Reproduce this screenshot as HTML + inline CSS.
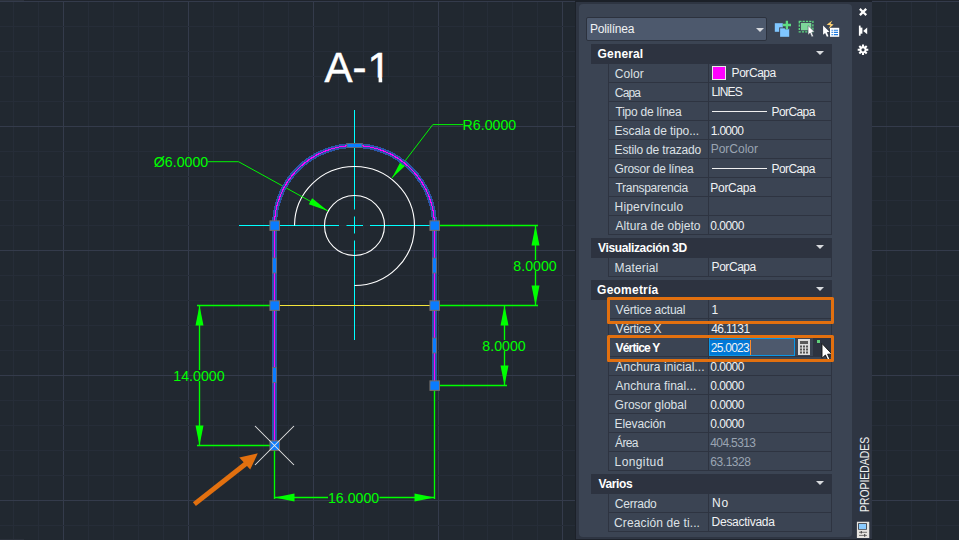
<!DOCTYPE html>
<html lang="es"><head><meta charset="utf-8"><title>AutoCAD - Propiedades</title>
<style>
*{box-sizing:border-box;margin:0;padding:0}
html,body{width:959px;height:540px;overflow:hidden;background:#212830}
body{position:relative;font-family:"Liberation Sans",Arial,sans-serif;font-size:12px;color:#e9ecef}
.cad{position:absolute;left:0;top:0}
.topbar{position:absolute;left:576px;top:0;width:296px;height:2px;background:#1b2028}
.frame{position:absolute;left:576px;top:2px;width:296px;height:536.5px;background:#2e3542}
.botbar{position:absolute;left:575px;top:538.5px;width:298px;height:1.5px;background:#1e232c}
.lshadow{position:absolute;left:574.5px;top:0;width:1.5px;height:540px;background:#1c2129}
.panel{position:absolute;left:579px;top:4px;width:273px;height:533px;background:#3b4453;border-radius:4px}
.combo{position:absolute;left:586px;top:17px;width:181px;height:24px;background:#4d596d;border:1px solid #2c323e;border-radius:2px;line-height:21px;padding-left:4px;font-size:12.4px;color:#f0f2f4}
.combo i{position:absolute;left:169px;top:10px;border-left:4px solid transparent;border-right:4px solid transparent;border-top:4px solid #d8dade}
.hd{position:absolute;left:591px;width:241px;height:20px;background:#2d3340;font-weight:bold;color:#fff;line-height:19px;padding-left:7px;font-size:12.2px}
.hd .tri{position:absolute;left:225px;top:7px;border-left:4px solid transparent;border-right:4px solid transparent;border-top:4px solid #d8dade}
.row{position:absolute;left:608px;width:224px;height:19px;border-left:1px solid #2e3441;border-right:1px solid #2e3441;border-bottom:1px solid #2e3441;line-height:18px;white-space:nowrap}
.row .lb{position:absolute;left:0;top:0;width:100px;height:18px;border-right:1px solid #2e3441}
.t{position:absolute;white-space:nowrap;line-height:19px;height:19px;font-size:12px;margin-top:1px}
.tl{color:#dde1e6}
.tv{color:#f0f2f4}
.tv.g{color:#9aa4b2}
.tv.up{margin-top:0}
.th{font-weight:bold;color:#fff;line-height:20px;height:20px;margin-top:0}
.tl.bold{font-weight:bold;color:#fff}
.tc{color:#f0f2f4;line-height:20px}
.row .vl{position:absolute;left:100px;top:0;width:122px;height:18px;padding-left:4px;color:#f4f5f6}
.row .vl.v2{padding-left:3px}
.row .vl.g{color:#9aa4b2}
.sw{position:absolute;left:712px;width:14px;height:14px;background:#ff00ff;border:1px solid #e8e8e8}
.ln{position:absolute;left:712px;width:55px;height:1px;background:#f0f0f0}
.row.sel .lb{}
.row.sel .vl{padding:0}
.edit{position:absolute;left:0;top:0;width:86px;height:18px;background:#4d596d;border:1px solid #0a96e6;line-height:15px}
.hl{display:inline-block;background:#0078d7;height:15px;width:40px;margin-top:1px;margin-left:0}
.caret{display:inline-block;width:1px;height:15px;background:#ff8a28;vertical-align:top;margin-top:1px}
.calc{position:absolute;left:89px;top:1px}
.dd{position:absolute;left:104px;top:0;width:18px;height:18px;background:#2d3340}
.dd i{position:absolute;left:4px;top:2px;width:3px;height:3px;background:#5fd07a}
.obox{position:absolute;left:607px;width:227px;border:3px solid #e2700f;border-radius:1.5px}
.vt{position:absolute;left:858px;top:512px;width:80px;height:14px;transform-origin:0 0;transform:rotate(-90deg) scaleX(0.845);font-size:12.3px;color:#f0f0f0;line-height:14px;white-space:nowrap}
</style></head><body>
<svg class="cad" width="959" height="540" viewBox="0 0 959 540">
<g shape-rendering="crispEdges">
<rect x="13" y="0" width="1" height="540" fill="#262d38"/>
<rect x="38" y="0" width="1" height="540" fill="#262d38"/>
<rect x="63" y="0" width="1" height="540" fill="#343b4b"/>
<rect x="88" y="0" width="1" height="540" fill="#262d38"/>
<rect x="113" y="0" width="1" height="540" fill="#262d38"/>
<rect x="138" y="0" width="1" height="540" fill="#262d38"/>
<rect x="163" y="0" width="1" height="540" fill="#262d38"/>
<rect x="188" y="0" width="1" height="540" fill="#343b4b"/>
<rect x="213" y="0" width="1" height="540" fill="#262d38"/>
<rect x="238" y="0" width="1" height="540" fill="#262d38"/>
<rect x="263" y="0" width="1" height="540" fill="#262d38"/>
<rect x="288" y="0" width="1" height="540" fill="#262d38"/>
<rect x="313" y="0" width="1" height="540" fill="#343b4b"/>
<rect x="338" y="0" width="1" height="540" fill="#262d38"/>
<rect x="363" y="0" width="1" height="540" fill="#262d38"/>
<rect x="388" y="0" width="1" height="540" fill="#262d38"/>
<rect x="413" y="0" width="1" height="540" fill="#262d38"/>
<rect x="438" y="0" width="1" height="540" fill="#343b4b"/>
<rect x="463" y="0" width="1" height="540" fill="#262d38"/>
<rect x="487" y="0" width="1" height="540" fill="#262d38"/>
<rect x="512" y="0" width="1" height="540" fill="#262d38"/>
<rect x="537" y="0" width="1" height="540" fill="#262d38"/>
<rect x="562" y="0" width="1" height="540" fill="#343b4b"/>
<rect x="587" y="0" width="1" height="540" fill="#262d38"/>
<rect x="612" y="0" width="1" height="540" fill="#262d38"/>
<rect x="637" y="0" width="1" height="540" fill="#262d38"/>
<rect x="662" y="0" width="1" height="540" fill="#262d38"/>
<rect x="687" y="0" width="1" height="540" fill="#343b4b"/>
<rect x="712" y="0" width="1" height="540" fill="#262d38"/>
<rect x="737" y="0" width="1" height="540" fill="#262d38"/>
<rect x="762" y="0" width="1" height="540" fill="#262d38"/>
<rect x="787" y="0" width="1" height="540" fill="#262d38"/>
<rect x="811" y="0" width="1" height="540" fill="#343b4b"/>
<rect x="836" y="0" width="1" height="540" fill="#262d38"/>
<rect x="861" y="0" width="1" height="540" fill="#262d38"/>
<rect x="886" y="0" width="1" height="540" fill="#262d38"/>
<rect x="911" y="0" width="1" height="540" fill="#262d38"/>
<rect x="936" y="0" width="1" height="540" fill="#262d38"/>
<rect x="0" y="1" width="959" height="1" fill="#343b4b"/>
<rect x="0" y="26" width="959" height="1" fill="#262d38"/>
<rect x="0" y="51" width="959" height="1" fill="#262d38"/>
<rect x="0" y="76" width="959" height="1" fill="#262d38"/>
<rect x="0" y="101" width="959" height="1" fill="#262d38"/>
<rect x="0" y="126" width="959" height="1" fill="#343b4b"/>
<rect x="0" y="151" width="959" height="1" fill="#262d38"/>
<rect x="0" y="176" width="959" height="1" fill="#262d38"/>
<rect x="0" y="200" width="959" height="1" fill="#262d38"/>
<rect x="0" y="225" width="959" height="1" fill="#262d38"/>
<rect x="0" y="250" width="959" height="1" fill="#343b4b"/>
<rect x="0" y="275" width="959" height="1" fill="#262d38"/>
<rect x="0" y="300" width="959" height="1" fill="#262d38"/>
<rect x="0" y="325" width="959" height="1" fill="#262d38"/>
<rect x="0" y="350" width="959" height="1" fill="#262d38"/>
<rect x="0" y="375" width="959" height="1" fill="#343b4b"/>
<rect x="0" y="400" width="959" height="1" fill="#262d38"/>
<rect x="0" y="425" width="959" height="1" fill="#262d38"/>
<rect x="0" y="450" width="959" height="1" fill="#262d38"/>
<rect x="0" y="475" width="959" height="1" fill="#262d38"/>
<rect x="0" y="500" width="959" height="1" fill="#343b4b"/>
<rect x="0" y="525" width="959" height="1" fill="#262d38"/>
<rect x="0" y="0" width="959" height="1" fill="#1f242c"/><rect x="0" y="0" width="24" height="1" fill="#2b313b"/>
</g>
<g stroke="#00ffff" stroke-width="1" fill="none">
<path d="M239 225.5H339M346.5 225.5H363M370 225.5H434.5"/>
<path d="M354.5 110V209.5M354.5 216.5V233.5M354.5 240.5V340"/>
</g>
<g stroke="#ffffff" stroke-width="1.12" fill="none">
<circle cx="354.5" cy="225.5" r="30"/>
<path d="M294.5 225.5A60 59.5 0 1 1 354.5 285.5"/>
</g>
<path d="M274.5 305.5H434.5" stroke="#f5e63c" stroke-width="1.2" fill="none"/>
<g stroke="#00ff00" stroke-width="1.35" fill="none">
<path d="M434.5 225.5H538M434.5 305.5H538M535.5 225.5V260M535.5 271V305.5"/>
<path d="M434.5 385.5H507M504.5 305.5V340M504.5 351V385.5"/>
<path d="M274.5 305.5H197M274.5 445.5H197M199.5 305.5V370M199.5 381V445.5"/>
<path d="M274.5 445.5V499M434.5 385.5V499M274.5 497.5H328M379.5 497.5H434.5"/>
<path d="M208 161.7H238.5L328 211" stroke-width="0.95"/>
<path d="M463 124.6H432.8L392 178" stroke-width="0.95"/>
</g>
<g fill="#00ff00" stroke="none">
<polygon points="535.50,225.50 531.50,245.50 539.50,245.50"/>
<polygon points="535.50,305.50 539.50,285.50 531.50,285.50"/>
<polygon points="504.50,305.50 500.50,325.50 508.50,325.50"/>
<polygon points="504.50,385.50 508.50,365.50 500.50,365.50"/>
<polygon points="199.50,305.50 195.50,325.50 203.50,325.50"/>
<polygon points="199.50,445.50 203.50,425.50 195.50,425.50"/>
<polygon points="274.50,497.50 294.50,501.50 294.50,493.50"/>
<polygon points="434.50,497.50 414.50,493.50 414.50,501.50"/>
<polygon points="328.00,211.00 312.12,198.37 308.84,204.33"/>
<polygon points="392.00,178.00 406.84,164.17 401.44,160.04"/>
</g>
<g fill="#00ff00" font-family="Liberation Sans, Arial, sans-serif" font-size="14.2" text-anchor="middle">
<text x="535" y="271.2">8.0000</text>
<text x="504" y="351.2">8.0000</text>
<text x="199" y="381.2">14.0000</text>
<text x="353.6" y="502.6">16.0000</text>
<text x="181" y="167.1">Ø6.0000</text>
<text x="489.4" y="130.1">R6.0000</text>
</g>
<text y="82.1" fill="#ffffff" stroke="#ffffff" stroke-width="0.5" font-family="Liberation Sans, Arial, sans-serif" font-size="42"><tspan x="324.4">A</tspan><tspan x="352.6">-</tspan><tspan x="367.5">1</tspan></text>
<rect x="367" y="77.6" width="11.6" height="6" fill="#212830"/><rect x="382.2" y="77.6" width="8" height="6" fill="#212830"/>
<path d="M274.5 445.5V225.5A80 80 0 0 1 434.5 225.5V385.5" stroke="#2b55a6" stroke-width="5" fill="none" shape-rendering="crispEdges"/>
<path d="M274.5 445.5V225.5A80 80 0 0 1 434.5 225.5V385.5" stroke="#ff00ff" stroke-width="1.15" fill="none" shape-rendering="crispEdges"/>
<rect x="269.95" y="220.85" width="9.5" height="9.5" fill="#0a7cff" stroke="#786e66" stroke-width="1"/>
<rect x="429.95" y="220.85" width="9.5" height="9.5" fill="#0a7cff" stroke="#786e66" stroke-width="1"/>
<rect x="269.95" y="300.85" width="9.5" height="9.5" fill="#0a7cff" stroke="#786e66" stroke-width="1"/>
<rect x="429.95" y="300.85" width="9.5" height="9.5" fill="#0a7cff" stroke="#786e66" stroke-width="1"/>
<rect x="429.95" y="380.85" width="9.5" height="9.5" fill="#0a7cff" stroke="#786e66" stroke-width="1"/>
<rect x="272.5" y="258.0" width="4" height="15" fill="#0a7cff" stroke="#6b6a68" stroke-width="0.8"/>
<rect x="432.5" y="258.0" width="4" height="15" fill="#0a7cff" stroke="#6b6a68" stroke-width="0.8"/>
<rect x="432.5" y="338.0" width="4" height="15" fill="#0a7cff" stroke="#6b6a68" stroke-width="0.8"/>
<rect x="272.5" y="367.5" width="4" height="15" fill="#0a7cff" stroke="#6b6a68" stroke-width="0.8"/>
<rect x="347.0" y="143.5" width="15" height="4" fill="#0a7cff" stroke="#6b6a68" stroke-width="0.8"/>
<rect x="269.95" y="440.85" width="9.5" height="9.5" fill="#0a7cff" stroke="#786e66" stroke-width="1"/>
<path d="M255 426L294 465M294 426L255 465" stroke="#e6e6e6" stroke-width="1.05" fill="none"/>
<g fill="#e2700f" stroke="none">
<path d="M192.9 502.2L244.6 461.6L247.6 465.4L195.9 506Z"/>
<polygon points="257.8,453.3 239.3,457.5 250.2,469.6"/>
</g>
<rect x="0" y="539" width="24" height="1" fill="#2b313b"/>
</svg>
<div class="topbar"></div>
<div class="frame"></div><div class="botbar"></div><div class="lshadow"></div>
<div class="panel"></div>
<div class="combo"><i></i></div>
<span class="t tc" style="left:590.10px;top:18px;letter-spacing:-0.226px">Polilínea</span>
<div class="hd" style="top:44px"><i class="tri"></i></div>
<span class="t th" style="left:597.60px;top:44px;letter-spacing:0.150px">General</span>
<div class="row" style="top:64px"><div class="lb"></div></div>
<span class="t tl" style="left:614.84px;top:64px;letter-spacing:0.041px">Color</span>
<div class="sw" style="top:66px"></div>
<span class="t tv up" style="left:731.60px;top:64px;letter-spacing:-0.450px">PorCapa</span>
<div class="row" style="top:83px"><div class="lb"></div></div>
<span class="t tl" style="left:614.84px;top:83px;letter-spacing:-0.840px">Capa</span>
<span class="t tv up" style="left:711.60px;top:83px;letter-spacing:-0.900px">LINES</span>
<div class="row" style="top:102px"><div class="lb"></div></div>
<span class="t tl" style="left:615.50px;top:102px;letter-spacing:-0.224px">Tipo de línea</span>
<div class="ln" style="top:111px"></div>
<span class="t tv " style="left:771.60px;top:102px;letter-spacing:-0.600px">PorCapa</span>
<div class="row" style="top:121px"><div class="lb"></div></div>
<span class="t tl" style="left:614.60px;top:121px;letter-spacing:-0.056px">Escala de tipo...</span>
<span class="t tv " style="left:710.85px;top:121px;letter-spacing:-0.720px">1.0000</span>
<div class="row" style="top:140px"><div class="lb"></div></div>
<span class="t tl" style="left:614.60px;top:140px;letter-spacing:-0.169px">Estilo de trazado</span>
<span class="t tv g up" style="left:710.70px;top:140px;letter-spacing:-0.001px">PorColor</span>
<div class="row" style="top:159px"><div class="lb"></div></div>
<span class="t tl" style="left:614.60px;top:159px;letter-spacing:-0.258px">Grosor de línea</span>
<div class="ln" style="top:168px"></div>
<span class="t tv " style="left:771.60px;top:159px;letter-spacing:-0.600px">PorCapa</span>
<div class="row" style="top:178px"><div class="lb"></div></div>
<span class="t tl" style="left:615.50px;top:178px;letter-spacing:-0.302px">Transparencia</span>
<span class="t tv " style="left:710.34px;top:178px;letter-spacing:-0.299px">PorCapa</span>
<div class="row" style="top:197px"><div class="lb"></div></div>
<span class="t tl" style="left:614.60px;top:197px;letter-spacing:0.164px">Hipervínculo</span>
<div class="row" style="top:216px"><div class="lb"></div></div>
<span class="t tl" style="left:615.50px;top:216px;letter-spacing:0.060px">Altura de objeto</span>
<span class="t tv " style="left:710.33px;top:216px;letter-spacing:-0.540px">0.0000</span>
<div class="hd" style="top:238px"><i class="tri"></i></div>
<span class="t th" style="left:598.00px;top:238px;letter-spacing:-0.360px">Visualización 3D</span>
<div class="row" style="top:258px"><div class="lb"></div></div>
<span class="t tl" style="left:614.60px;top:258px;letter-spacing:0.128px">Material</span>
<span class="t tv up" style="left:711.60px;top:258px;letter-spacing:-0.451px">PorCapa</span>
<div class="hd" style="top:280px"><i class="tri"></i></div>
<span class="t th" style="left:597.10px;top:280px;letter-spacing:0.225px">Geometría</span>
<div class="row" style="top:300px"><div class="lb"></div></div>
<span class="t tl" style="left:615.50px;top:300px;letter-spacing:-0.208px">Vértice actual</span>
<span class="t tv " style="left:711.60px;top:300px;letter-spacing:0.000px">1</span>
<div class="row" style="top:319px"><div class="lb"></div></div>
<span class="t tl" style="left:615.50px;top:319px;letter-spacing:-0.337px">Vértice X</span>
<span class="t tv " style="left:711.24px;top:319px;letter-spacing:-0.600px">46.1131</span>
<div class="row sel" style="top:338px"><div class="lb"></div><div class="vl"><div class="edit"><span class="hl"></span><span class="caret"></span></div><svg class="calc" width="12" height="16" viewBox="0 0 12 16"><rect width="12" height="16" fill="#dcdcdc"/><rect x="2" y="2" width="8" height="3" fill="#5a5a5a"/><rect x="2" y="6.5" width="2" height="2" fill="#555"/><rect x="2" y="9.5" width="2" height="2" fill="#555"/><rect x="2" y="12.5" width="2" height="2" fill="#555"/><rect x="5" y="6.5" width="2" height="2" fill="#555"/><rect x="5" y="9.5" width="2" height="2" fill="#555"/><rect x="5" y="12.5" width="2" height="2" fill="#555"/><rect x="8" y="6.5" width="2" height="2" fill="#555"/><rect x="8" y="9.5" width="2" height="2" fill="#555"/><rect x="8" y="12.5" width="2" height="2" fill="#555"/></svg><div class="dd"><i></i></div></div></div>
<span class="t tl bold" style="left:615.50px;top:338px;letter-spacing:-0.788px">Vértice Y</span>
<span class="t tv" style="left:710.85px;top:338px;letter-spacing:-0.750px">25.0023</span>
<div class="row" style="top:357px"><div class="lb"></div></div>
<span class="t tl" style="left:615.50px;top:357px;letter-spacing:0.054px">Anchura inicial...</span>
<span class="t tv " style="left:710.33px;top:357px;letter-spacing:-0.540px">0.0000</span>
<div class="row" style="top:376px"><div class="lb"></div></div>
<span class="t tl" style="left:615.50px;top:376px;letter-spacing:0.060px">Anchura final...</span>
<span class="t tv " style="left:710.33px;top:376px;letter-spacing:-0.540px">0.0000</span>
<div class="row" style="top:395px"><div class="lb"></div></div>
<span class="t tl" style="left:614.60px;top:395px;letter-spacing:0.000px">Grosor global</span>
<span class="t tv " style="left:710.33px;top:395px;letter-spacing:-0.540px">0.0000</span>
<div class="row" style="top:414px"><div class="lb"></div></div>
<span class="t tl" style="left:614.60px;top:414px;letter-spacing:-0.113px">Elevación</span>
<span class="t tv " style="left:710.33px;top:414px;letter-spacing:-0.540px">0.0000</span>
<div class="row" style="top:433px"><div class="lb"></div></div>
<span class="t tl" style="left:615.00px;top:433px;letter-spacing:-0.600px">Área</span>
<span class="t tv g" style="left:710.33px;top:433px;letter-spacing:-0.642px">404.5313</span>
<div class="row" style="top:452px"><div class="lb"></div></div>
<span class="t tl" style="left:614.60px;top:452px;letter-spacing:0.385px">Longitud</span>
<span class="t tv g" style="left:710.34px;top:452px;letter-spacing:-0.453px">63.1328</span>
<div class="hd" style="top:474px"><i class="tri"></i></div>
<span class="t th" style="left:598.50px;top:474px;letter-spacing:-0.360px">Varios</span>
<div class="row" style="top:494px"><div class="lb"></div></div>
<span class="t tl" style="left:614.84px;top:494px;letter-spacing:-0.240px">Cerrado</span>
<span class="t tv up" style="left:712.00px;top:494px;letter-spacing:0.900px">No</span>
<div class="row" style="top:513px"><div class="lb"></div></div>
<span class="t tl" style="left:614.10px;top:513px;letter-spacing:0.112px">Creación de ti...</span>
<span class="t tv up" style="left:711.60px;top:513px;letter-spacing:-0.270px">Desactivada</span>
<svg style="position:absolute;left:820px;top:342px" width="14" height="19" viewBox="0 0 14 19">
 <path d="M2 1.5V16.2L5.4 13L7.8 18.2L10 17.2L7.6 12.2H12Z" fill="#fff" stroke="#111" stroke-width="0.9" stroke-linejoin="round"/>
</svg>
<div class="obox" style="top:297px;height:27px"></div>
<div class="obox" style="top:335px;height:27px"></div>

<svg class="ic" style="position:absolute;left:772px;top:18px" width="72" height="22" viewBox="772 18 72 22">
 <rect x="774.8" y="23.2" width="8.2" height="8.6" fill="#7fc6ff"/>
 <rect x="779.2" y="27.4" width="10.6" height="9.8" fill="#3b4453"/>
 <rect x="780.1" y="28.3" width="9.1" height="8.5" fill="#7fc6ff"/>
 <path d="M786.9 20.8V29.2M782.8 25H791" stroke="#3b4453" stroke-width="4" fill="none"/>
 <path d="M786.9 20.8V29.2M782.8 25H791" stroke="#5edc82" stroke-width="2.3" fill="none"/>
 <rect x="799.3" y="21.3" width="13.6" height="10.6" fill="none" stroke="#5edc82" stroke-width="1.3" stroke-dasharray="2.2 1.1"/>
 <rect x="800.9" y="22.9" width="10.4" height="7.4" fill="#7dd79a"/>
 <path d="M808.1 25.6V34.9L810.1 33L811.8 36.9L813.4 36.3L811.8 32.3L814.4 31.8Z" fill="#fff" stroke="#3b4453" stroke-width="0.5"/>
 <path d="M823.1 25.5V34.8L825.1 32.9L826.9 36.8L828.5 36.2L826.8 32.2L829.4 31.7Z" fill="#fff"/>
 <path d="M832.3 20.6L826.6 24.8L830.4 25.2L828.5 29L833.6 24.6L830.6 23.8Z" fill="#ffd272"/>
 <rect x="830" y="27.8" width="9.2" height="9" fill="#fff"/>
 <path d="M831.5 30.2h1.3M833.8 30.2h4.2M831.5 32.4h1.3M833.8 32.4h4.2M831.5 34.6h1.3M833.8 34.6h4.2" stroke="#1e7be0" stroke-width="1.1"/>
</svg>
<svg style="position:absolute;left:856px;top:6px" width="14" height="52" viewBox="856 6 14 52">
 <path d="M860.7 9.7L865.4 14.3M865.4 9.7L860.7 14.3" stroke="#fff" stroke-width="2.3" stroke-linecap="square" fill="none"/>
 <rect x="858.9" y="25.6" width="1.7" height="10.1" fill="#fff"/>
 <rect x="859.5" y="27.6" width="2.9" height="6.1" fill="#fff"/>
 <path d="M867.2 27.6V34.2L863.2 30.9Z" fill="#fff"/>
 <g stroke="#fff" stroke-width="2.1" fill="none">
  <path d="M863 44.5V55.1M857.7 49.8H868.3M859.3 46.1L866.7 53.5M866.7 46.1L859.3 53.5"/>
 </g>
 <circle cx="863" cy="49.8" r="3.5" fill="#fff"/>
 <circle cx="863" cy="49.8" r="1.6" fill="#2e3542"/>
</svg>
<svg style="position:absolute;left:856px;top:521px" width="15" height="18" viewBox="856 521 15 18">
 <rect x="856.9" y="521.75" width="12.35" height="16.25" fill="#e6e4e0"/>
 <rect x="858.1" y="523.2" width="8.8" height="6.5" fill="#2d3340"/>
 <rect x="858.9" y="524" width="7.2" height="5" fill="#8acbff"/>
 <path d="M859 532.3H867M859 535.4H867" stroke="#555" stroke-width="0.8"/>
 <path d="M861.3 531V533.6M864.7 534.1V536.7" stroke="#444" stroke-width="1.1"/>
</svg>


<div class="vt">PROPIEDADES</div>
</body></html>
